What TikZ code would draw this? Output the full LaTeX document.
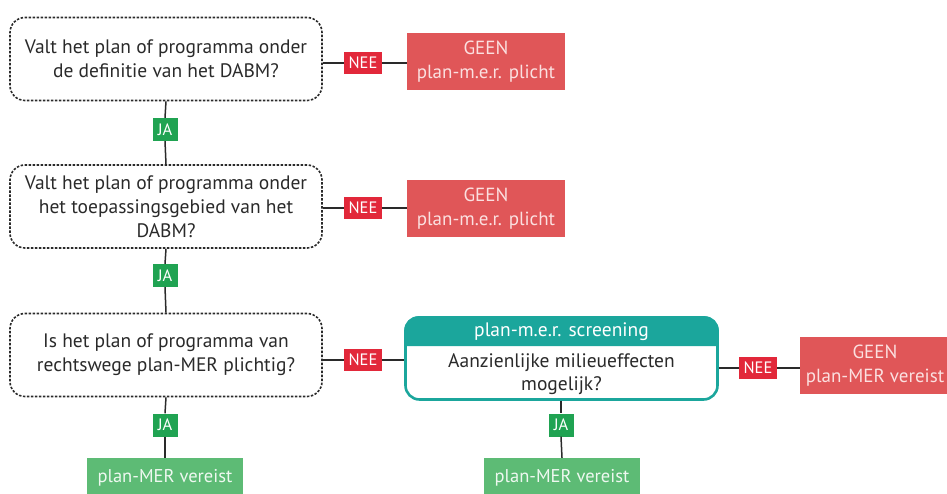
\documentclass[tikz,border=0pt]{standalone}
\usepackage{fontspec}
\setmainfont{PT Sans}
\definecolor{nred}{HTML}{E2283A}
\definecolor{gred}{HTML}{E05658}
\definecolor{gtxt}{HTML}{FBE0E0}
\definecolor{jgreen}{HTML}{20A352}
\definecolor{rgreen}{HTML}{5DBB75}
\definecolor{rtxt}{HTML}{EEF8F0}
\definecolor{teal}{HTML}{1BA69C}
\definecolor{ink}{HTML}{2A2A2A}
\begin{document}
\begin{tikzpicture}[x=1pt,y=-1pt,
  question/.style={draw=ink, line width=1.6pt, dash pattern=on 2.4pt off 1.6pt, rounded corners=15pt,
    minimum width=312pt, minimum height=83pt, align=center, font=\fontsize{19.5}{24}\selectfont, text=ink, inner sep=0pt},
  neebox/.style={fill=nred, text=white, minimum width=38pt, minimum height=22pt, inner sep=0pt, font=\fontsize{16.5}{18}\selectfont},
  jabox/.style={fill=jgreen, text=white, minimum width=25pt, minimum height=23pt, inner sep=0pt, font=\fontsize{16.5}{18}\selectfont},
  geenbox/.style={fill=gred, text=gtxt, minimum width=158pt, minimum height=57pt, inner sep=0pt, align=center, font=\fontsize{19}{24}\selectfont},
  resbox/.style={fill=rgreen, text=rtxt, minimum width=156pt, minimum height=40pt, inner sep=0pt, font=\fontsize{18.5}{20}\selectfont},
  conn/.style={draw=ink, line width=1.5pt}]
\useasboundingbox (0,0) rectangle (947,494);
\begin{scope}
\clip (0,0) rectangle (947,494);
% questions
\node[question] (q1) at (166,59) {Valt het plan of programma onder\\de definitie van het DABM?};
\node[question] (q2) at (166,206.5) {Valt het plan of programma onder\\het toepassingsgebied van het\\DABM?};
\node[question] (q3) at (166,355) {Is het plan of programma van\\rechtswege plan-MER plichtig?};
% JA labels
\node[jabox] (ja1) at (165,129.5) {JA};
\node[jabox] (ja2) at (165,275.5) {JA};
\node[jabox] (ja3) at (165,425) {JA};
\node[jabox] (ja4) at (561,425) {JA};
% NEE labels
\node[neebox] (nee1) at (363,63) {NEE};
\node[neebox] (nee2) at (363,208) {NEE};
\node[neebox] (nee3) at (363,360) {NEE};
\node[neebox] (nee4) at (758,368) {NEE};
% results
\node[geenbox] (g1) at (486,61.5) {GEEN\\plan-m.e.r. plicht};
\node[geenbox] (g2) at (486,209) {GEEN\\plan-m.e.r. plicht};
\node[geenbox, minimum width=150pt] (g3) at (875,365.5) {GEEN\\plan-MER vereist};
\node[resbox] (r1) at (165,478) {plan-MER vereist};
\node[resbox] (r2) at (562,478) {plan-MER vereist};
% screening box
\node[draw=teal, line width=2.6pt, rounded corners=14pt, minimum width=312pt, minimum height=82pt, fill=white] (scr) at (561.5,358.5) {};
\fill[teal] ([yshift=-30pt]scr.north west) [rounded corners=14pt] -- (scr.north west) -- (scr.north east) [sharp corners] -- ([yshift=-30pt]scr.north east) -- cycle;
\node[text=white, font=\fontsize{19.5}{20}\selectfont] (scrh) at (561.5,332) {plan-m.e.r. screening};
\node[text=ink, align=center, font=\fontsize{19.5}{23}\selectfont] (scrb) at (561.5,374.5) {Aanzienlijke milieueffecten\\mogelijk?};
% connectors
\draw[conn] (q1.south) -- (ja1.north);
\draw[conn] (ja1.south) -- (q2.north);
\draw[conn] (q2.south) -- (ja2.north);
\draw[conn] (ja2.south) -- (q3.north);
\draw[conn] (q3.south) -- (ja3.north);
\draw[conn] (ja3.south) -- (r1.north);
\draw[conn] (scr.south -| ja4) -- (ja4.north);
\draw[conn] (ja4.south) -- (r2.north);
\draw[conn] (q1.east |- nee1) -- (nee1.west);
\draw[conn] (nee1.east) -- (g1.west |- nee1);
\draw[conn] (q2.east |- nee2) -- (nee2.west);
\draw[conn] (nee2.east) -- (g2.west |- nee2);
\draw[conn] (q3.east |- nee3) -- (nee3.west);
\draw[conn] (nee3.east) -- (scr.west |- nee3);
\draw[conn] (scr.east |- nee4) -- (nee4.west);
\draw[conn] (nee4.east) -- (g3.west |- nee4);
\end{scope}
\end{tikzpicture}
\end{document}
